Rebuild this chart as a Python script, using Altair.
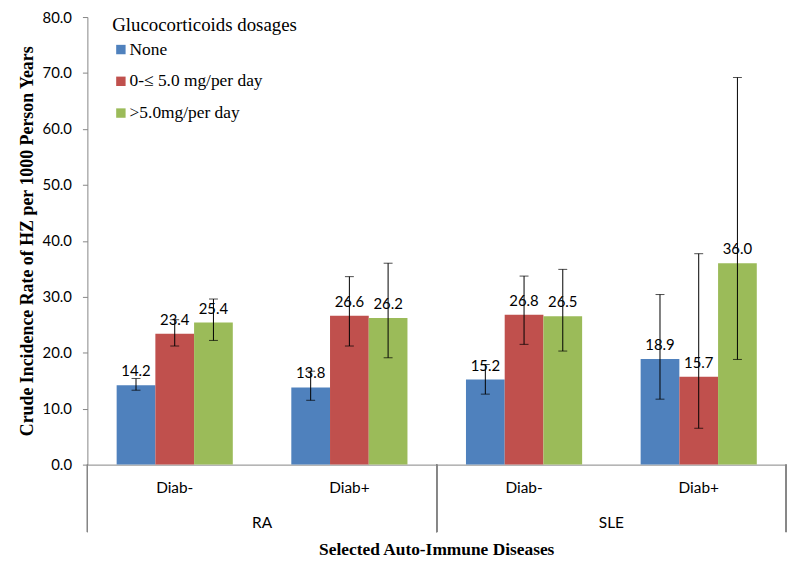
import altair as alt
import pandas as pd

diseases = ["RA", "RA", "SLE", "SLE"]
diabetes = ["Diab-", "Diab+", "Diab-", "Diab+"]
dosages = ["None", "0-\u2264 5.0 mg/per day", ">5.0mg/per day"]
colors = ["#4F81BD", "#C0504D", "#9BBB59"]

rate_none = [14.2, 13.8, 15.2, 18.9]
rate_low = [23.4, 26.6, 26.8, 15.7]
rate_high = [25.4, 26.2, 26.5, 36.0]

lo_none = [13.3, 11.5, 12.6, 11.7]
hi_none = [15.4, 16.7, 17.9, 30.4]
lo_low = [21.2, 21.2, 21.5, 6.5]
hi_low = [25.9, 33.6, 33.7, 37.7]
lo_high = [22.2, 19.1, 20.3, 18.8]
hi_high = [29.6, 36.0, 34.9, 69.2]

rows = []
for dose, rates, los, his in [
    (dosages[0], rate_none, lo_none, hi_none),
    (dosages[1], rate_low, lo_low, hi_low),
    (dosages[2], rate_high, lo_high, hi_high),
]:
    for i in range(4):
        rows.append(dict(disease=diseases[i], diab=diabetes[i], dose=dose,
                         rate=rates[i], lo=los[i], hi=his[i]))
df = pd.DataFrame(rows)

W, H = 352, 451
SANS = "Lato"
SERIF = "Liberation Serif"

x_enc = alt.X("diab:N", sort=["Diab-", "Diab+"],
              scale=alt.Scale(paddingInner=0.335, paddingOuter=0.1675),
              axis=alt.Axis(title=None, ticks=False, labelAngle=0, labelFont=SANS,
                            labelFontSize=15.5, labelColor="#000000", labelPadding=16,
                            domainColor="#868686"))
xo = alt.XOffset("dose:N", sort=dosages, scale=alt.Scale(paddingInner=0, paddingOuter=0))
y_scale = alt.Scale(domain=[0, 80])

bars = alt.Chart().mark_bar().encode(
    x=x_enc,
    xOffset=xo,
    y=alt.Y("rate:Q", scale=y_scale,
            axis=alt.Axis(title="Crude Incidence Rate of HZ per 1000 Person Years",
                          values=[0, 10, 20, 30, 40, 50, 60, 70, 80], format=".1f",
                          grid=False, tickSize=5, labelPadding=11, tickColor="#868686",
                          domainColor="#868686", labelFont=SANS, labelFontSize=15,
                          labelColor="#000000", titleFont=SERIF, titleFontSize=18,
                          titleFontWeight="bold", titleColor="#000000", titlePadding=6,
                          titleLimit=500)),
    color=alt.Color("dose:N", sort=dosages,
                    scale=alt.Scale(domain=dosages, range=colors),
                    legend=alt.Legend(title="Glucocorticoids dosages", orient="none",
                                      legendX=25, legendY=-1, symbolType="square",
                                      symbolSize=90, symbolStrokeWidth=0,
                                      titleFont=SERIF, titleFontSize=19,
                                      titleFontWeight="normal", titleColor="#000000",
                                      titleLimit=400, labelLimit=400,
                                      labelFont=SERIF, labelFontSize=17.5,
                                      labelColor="#000000", rowPadding=13,
                                      titlePadding=6, labelOffset=0)),
)

err = alt.Chart().mark_rule(color="#000000", strokeWidth=1).encode(
    x=x_enc, xOffset=xo, y=alt.Y("lo:Q", scale=y_scale), y2="hi:Q")
cap_lo = alt.Chart().mark_tick(color="#000000", thickness=1, size=9).encode(
    x=x_enc, xOffset=xo, y=alt.Y("lo:Q", scale=y_scale))
cap_hi = alt.Chart().mark_tick(color="#000000", thickness=1, size=9).encode(
    x=x_enc, xOffset=xo, y=alt.Y("hi:Q", scale=y_scale))

labels = alt.Chart().mark_text(baseline="bottom", dy=-6, font=SANS, fontSize=15,
                               color="#000000").encode(
    x=x_enc, xOffset=xo, y=alt.Y("rate:Q", scale=y_scale),
    text=alt.Text("rate:Q", format=".1f"))

sep_left = alt.Chart().mark_rule(color="#868686", strokeWidth=1).encode(
    x=alt.value(0), y=alt.value(H), y2=alt.value(H + 68))
sep_right = alt.Chart().mark_rule(color="#868686", strokeWidth=1).encode(
    x=alt.value(W), y=alt.value(H), y2=alt.value(H + 68))

layered = alt.layer(bars, err, cap_lo, cap_hi, labels, sep_left, sep_right,
                    data=df).properties(width=W, height=H)

chart = layered.facet(
    column=alt.Column("disease:N", sort=["RA", "SLE"],
                      header=alt.Header(labelOrient="bottom", titleOrient="bottom",
                                        title="Selected Auto-Immune Diseases",
                                        labelFont=SANS, labelFontSize=15.5,
                                        labelColor="#000000", labelPadding=20,
                                        titleFont=SERIF, titleFontSize=17.5,
                                        titleFontWeight="bold", titleColor="#000000",
                                        titlePadding=0)),
    spacing=0,
    bounds="flush",
).properties(padding={"left": 10, "top": 0, "right": 5, "bottom": 0}).configure_view(stroke=None)

chart.save("out.html", embed_options={"renderer": "svg", "actions": False})
